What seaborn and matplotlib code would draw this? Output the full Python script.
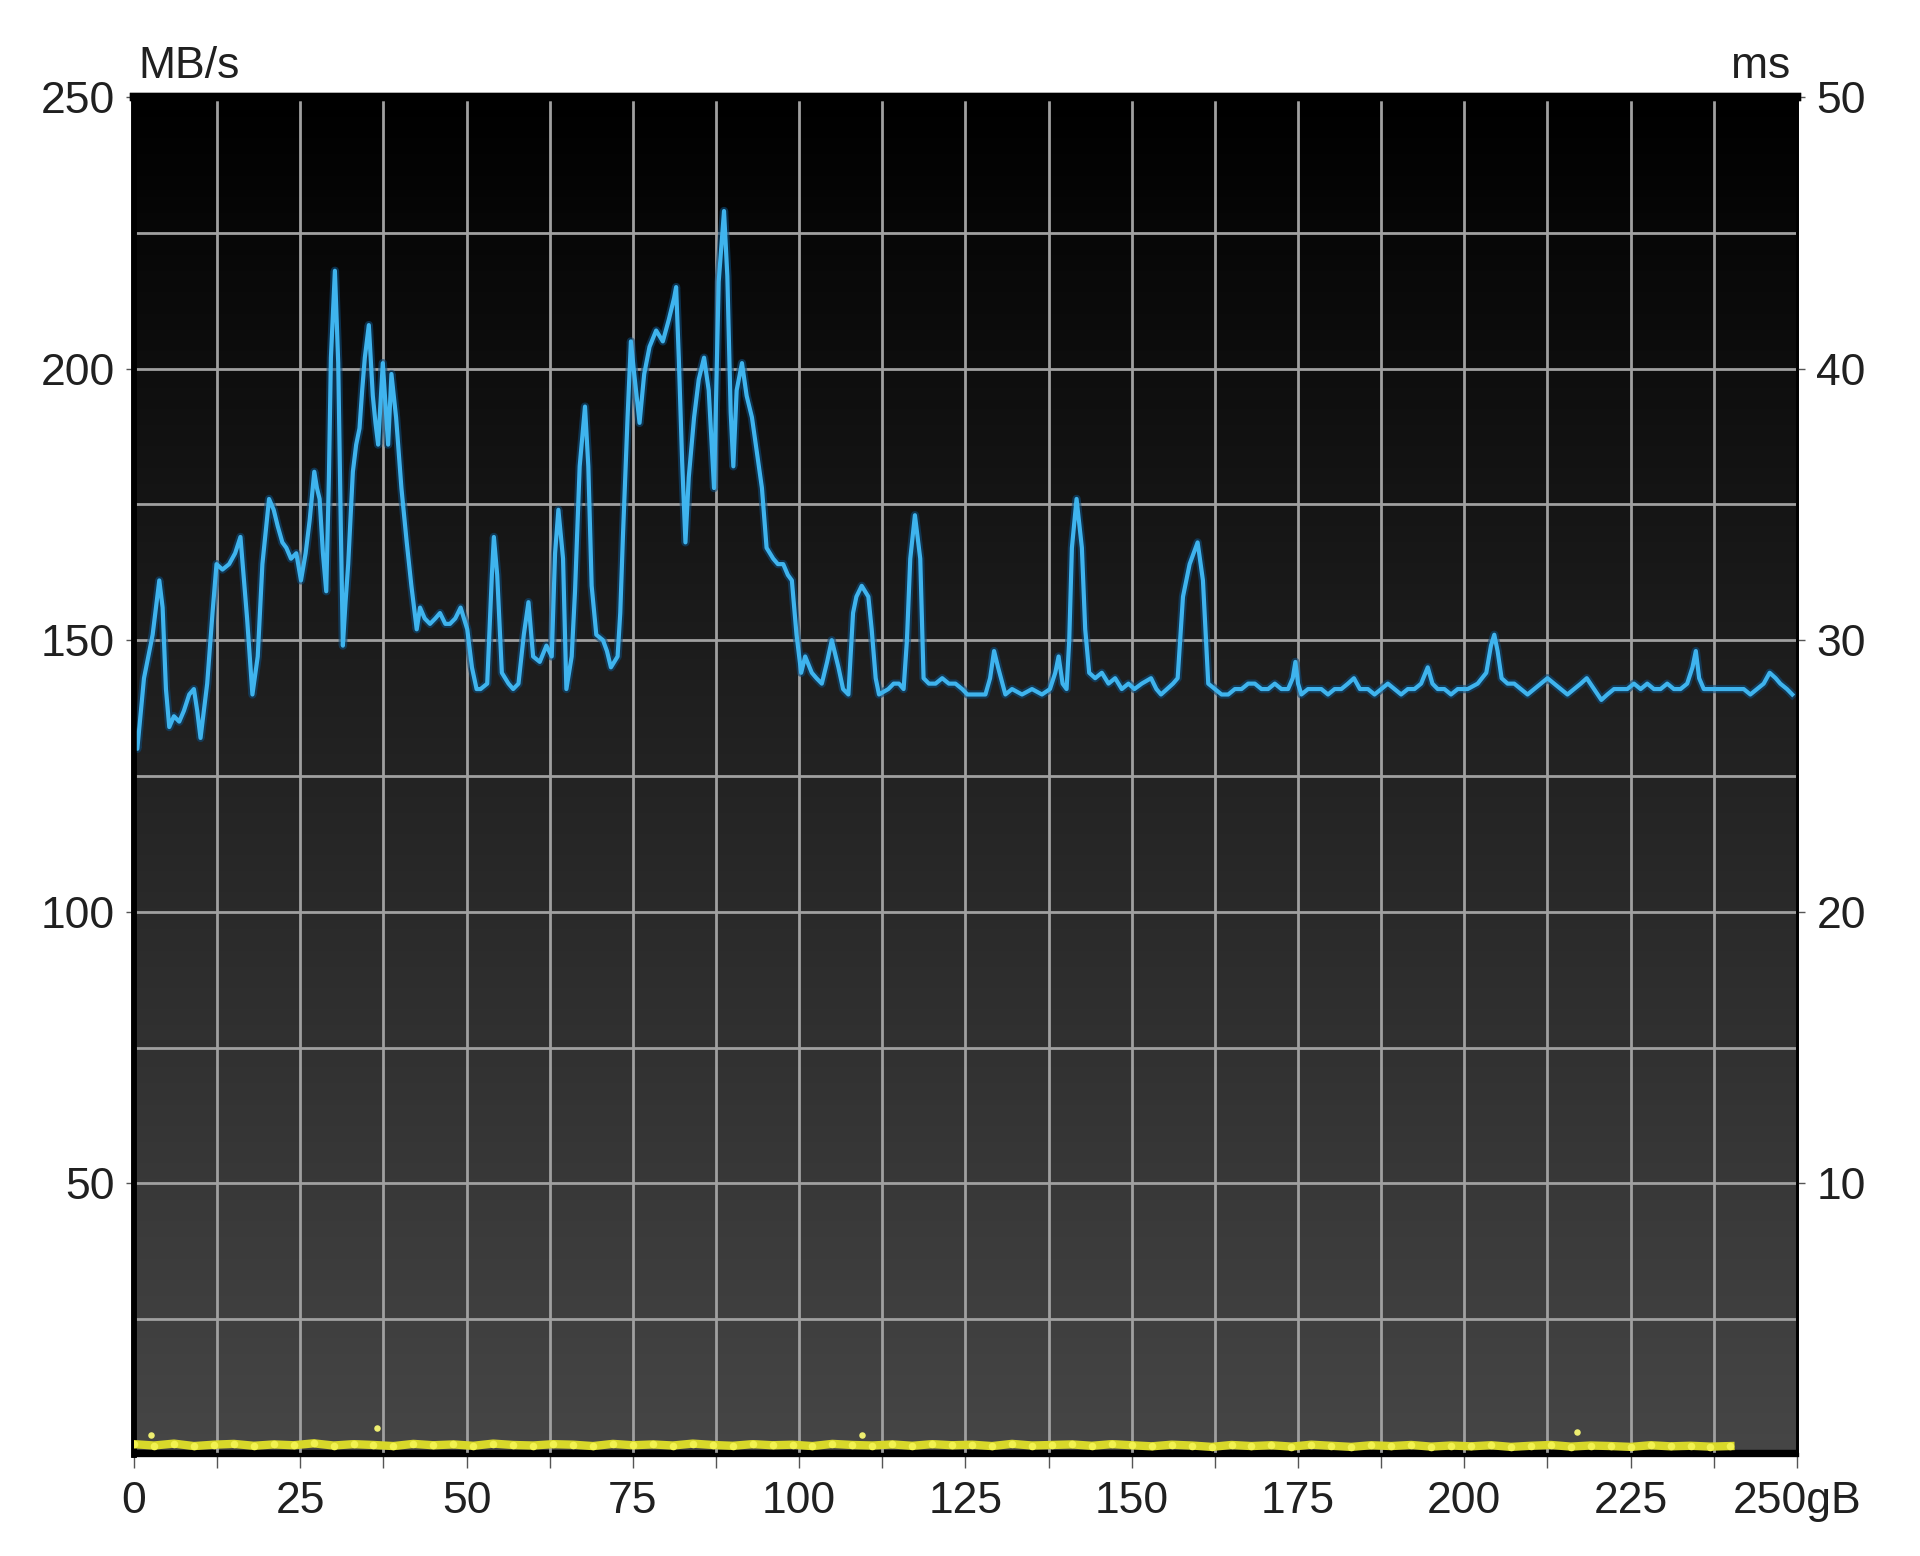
import matplotlib
matplotlib.use("Agg")
import matplotlib.pyplot as plt
from matplotlib.colors import LinearSegmentedColormap
import numpy as np
import seaborn as sns

# transfer rate (MB/s), position in GB
rate_gb = [0.0, 0.5, 1.5, 2.8, 3.8, 4.3, 4.8, 5.3, 6.0, 6.8, 7.5, 8.3, 9.0, 9.5, 10.0,
           11.0, 11.8, 12.4, 13.3, 14.3, 15.2, 16.0, 17.0, 17.8, 18.6, 19.3, 20.3, 21.0,
           21.6, 22.3, 22.9, 23.6, 24.4, 25.1, 25.8, 26.4, 27.1, 27.5, 27.9, 28.4, 28.9,
           29.3, 29.6, 30.2, 30.7, 31.1, 31.4, 31.8, 32.2, 32.9, 33.4, 33.9, 34.3, 34.7,
           35.3, 35.9, 36.3, 36.7, 37.4, 38.2, 38.7, 39.4, 40.2, 41.0, 41.7, 42.5, 43.0,
           43.7, 44.5, 45.3, 46.0, 46.8, 47.5, 48.3, 49.1, 50.1, 50.8, 51.5,
           52.1, 53.1, 53.8, 54.1, 54.6, 55.3, 56.3, 57.0, 57.8, 58.6, 59.3, 60.0, 61.0,
           62.0, 62.8, 63.3, 63.8, 64.5, 65.0, 65.8, 66.3, 67.0, 67.8, 68.3, 68.8, 69.5,
           70.5, 71.1, 71.7, 72.2, 72.7, 73.1, 73.5, 74.2, 74.7, 75.2, 76.0, 76.7, 77.5,
           78.5, 79.0, 79.5, 80.4, 81.2, 81.5, 81.9, 82.4, 82.9, 83.4, 84.2, 84.9, 85.7,
           86.4, 87.2, 87.9, 88.7, 89.2, 89.7, 90.1, 90.6, 91.4, 92.1, 92.9, 93.6, 94.4,
           95.1, 96.1, 96.8, 97.6, 98.3, 98.9, 99.6, 100.3,
           100.9, 101.9, 102.6, 103.4, 104.2, 104.9, 105.9, 106.6, 107.4, 108.1, 108.6,
           109.4, 110.4, 110.9, 111.5, 112.0, 113.4, 114.2, 115.0, 115.7, 116.2, 116.7,
           117.4, 118.2, 118.7, 119.5, 120.5, 121.5, 122.5, 123.5, 124.5, 125.3, 126.5,
           128.0, 128.7, 129.3, 129.9, 131.0, 132.0, 133.5, 135.0, 136.5, 137.7, 138.5,
           139.0, 139.6, 140.2, 140.6, 141.0, 141.7, 142.5, 143.0, 143.6, 144.5, 145.5,
           146.5, 147.5, 148.5, 149.5, 150.4, 151.5, 152.9, 153.7, 154.4, 155.3, 156.2,
           156.9, 157.7, 158.7, 159.9, 160.7, 161.5, 162.5, 163.5, 164.5,
           165.5, 166.5, 167.5, 168.5, 169.5, 170.5, 171.5, 172.5, 173.5, 174.2, 174.6,
           175.0, 175.5, 176.5, 177.5, 178.5, 179.5, 180.5, 181.5, 182.5, 183.4, 184.3,
           185.5, 186.5, 187.5, 188.5, 189.5, 190.5, 191.5, 192.5, 193.5, 194.5, 195.2,
           196.0, 197.0, 198.0, 199.0, 200.5, 202.0, 203.3, 204.0, 204.5, 205.0, 205.6,
           206.5, 207.5, 208.5, 209.5, 210.5, 211.5, 212.5, 213.5, 214.5, 215.5, 216.5,
           217.5, 218.4, 219.5, 220.6, 221.5, 222.5, 223.5, 224.5, 225.5, 226.5, 227.5,
           228.5, 229.5, 230.5, 231.5, 232.5, 233.5, 234.3, 234.8, 235.3, 236.0, 237.0,
           238.0, 239.0, 240.0, 241.0, 242.0, 243.0, 244.0, 245.0, 245.9, 246.8, 247.5,
           248.5, 249.3]
rate_mbs = [134, 130, 143, 151, 161, 156, 141, 134, 136, 135, 137, 140, 141, 137, 132,
            142, 155, 164, 163, 164, 166, 169, 154, 140, 147, 164, 176, 174,
            171, 168, 167, 165, 166, 161, 166, 172, 181, 178, 176, 166, 159,
            180, 202, 218, 201, 170, 149, 157, 164, 181, 186, 189, 196, 202,
            208, 195, 190, 186, 201, 186, 199, 191, 178, 168, 160, 152, 156,
            154, 153, 154, 155, 153, 153, 154, 156, 152, 145, 141,
            141, 142, 162, 169, 162, 144, 142, 141, 142, 151, 157, 147, 146,
            149, 147, 166, 174, 165, 141, 147, 159, 182, 193, 182, 160, 151,
            150, 148, 145, 146, 147, 155, 169, 191, 205, 199, 190, 199, 204,
            207, 206, 205, 209, 213, 215, 202, 183, 168, 180, 191, 198, 202,
            196, 178, 216, 229, 217, 192, 182, 196, 201, 195, 191, 185, 178,
            167, 165, 164, 164, 162, 161, 151, 144,
            147, 144, 143, 142, 146, 150, 145, 141, 140, 155, 158,
            160, 158, 152, 143, 140, 141, 142, 142, 141, 150, 165,
            173, 165, 143, 142, 142, 143, 142, 142, 141, 140, 140,
            140, 143, 148, 145, 140, 141, 140, 141, 140, 141, 144,
            147, 142, 141, 150, 167, 176, 167, 152, 144, 143, 144,
            142, 143, 141, 142, 141, 142, 143, 141, 140, 141, 142,
            143, 158, 164, 168, 161, 142, 141, 140, 140,
            141, 141, 142, 142, 141, 141, 142, 141, 141, 143, 146,
            142, 140, 141, 141, 141, 140, 141, 141, 142, 143, 141,
            141, 140, 141, 142, 141, 140, 141, 141, 142, 145, 142,
            141, 141, 140, 141, 141, 142, 144, 149, 151, 148, 143,
            142, 142, 141, 140, 141, 142, 143, 142, 141, 140, 141,
            142, 143, 141, 139, 140, 141, 141, 141, 142, 141, 142,
            141, 141, 142, 141, 141, 142, 145, 148, 143, 141, 141,
            141, 141, 141, 141, 141, 140, 141, 142, 144, 143, 142,
            141, 140]

# access time (ms)
access_gb = [0, 3, 6, 9, 12, 15, 18, 21, 24, 27,
             30, 33, 36, 39, 42, 45, 48, 51, 54, 57,
             60, 63, 66, 69, 72, 75, 78, 81, 84, 87,
             90, 93, 96, 99, 102, 105, 108, 111, 114, 117,
             120, 123, 126, 129, 132, 135, 138, 141, 144, 147,
             150, 153, 156, 159, 162, 165, 168, 171, 174, 177,
             180, 183, 186, 189, 192, 195, 198, 201, 204, 207,
             210, 213, 216, 219, 222, 225, 228, 231, 234, 237,
             240]
access_ms = [0.40, 0.35, 0.42, 0.33, 0.38, 0.41, 0.34, 0.39, 0.36, 0.43,
             0.35, 0.40, 0.37, 0.33, 0.41, 0.36, 0.39, 0.34, 0.42, 0.37,
             0.35, 0.40, 0.38, 0.33, 0.41, 0.36, 0.39, 0.35, 0.42, 0.37,
             0.34, 0.40, 0.36, 0.38, 0.33, 0.41, 0.37, 0.35, 0.39, 0.34,
             0.40, 0.36, 0.38, 0.33, 0.41, 0.35, 0.37, 0.39, 0.34, 0.40,
             0.36, 0.32, 0.38, 0.35, 0.30, 0.37, 0.33, 0.36, 0.31, 0.38,
             0.34, 0.30, 0.36, 0.33, 0.37, 0.31, 0.35, 0.32, 0.36, 0.30,
             0.34, 0.37, 0.31, 0.35, 0.33, 0.30, 0.36, 0.32, 0.34, 0.31,
             0.33]
spike_gb = [2.5, 36.5, 109.5, 217.0]
spike_ms = [0.75, 1.0, 0.75, 0.85]

x_ticks = [0, 25, 50, 75, 100, 125, 150, 175, 200, 225, 250]
x_labels = ["0", "25", "50", "75", "100", "125", "150", "175", "200", "225", "250gB"]
left_ticks = [50, 100, 150, 200, 250]
right_ticks = [10, 20, 30, 40, 50]

plt.rcParams['font.family'] = ['Liberation Sans', 'DejaVu Sans']
txt = "#202020"
fs = 32

fig = plt.figure(figsize=(19.2, 15.56), dpi=100)
ax = fig.add_axes([0.0698, 0.0649, 0.8661, 0.8728])

# dark gradient background
grad = np.linspace(0, 1, 256).reshape(-1, 1)
cmap = LinearSegmentedColormap.from_list("bg", ["#000000", "#464646"])
ax.imshow(grad, extent=[0, 250, 0, 250], aspect="auto", cmap=cmap, origin="upper", zorder=0)
ax.axhspan(0, 0.9, color="black", zorder=1)

ax.set_xlim(0, 250)
ax.set_ylim(0, 250)
ax.set_xticks(x_ticks)
ax.set_xticklabels(x_labels)
ax.set_xticks([12.5 + 25 * i for i in range(10)], minor=True)
ax.set_yticks(left_ticks)
ax.set_yticks([25, 75, 125, 175, 225], minor=True)
ax.grid(True, which="both", color="#a0a0a0", linewidth=2)

# soft dark halo, then the bright line
sns.lineplot(x=rate_gb, y=rate_mbs, ax=ax, color="#0d4a78", linewidth=6, alpha=0.6, zorder=3)
sns.lineplot(x=rate_gb, y=rate_mbs, ax=ax, color="#3fb4ee", linewidth=3, zorder=4)

ax.tick_params(axis="x", which="both", direction="out", length=9, width=1, color="#555555",
               labelsize=fs, labelcolor=txt, pad=10)
ax.tick_params(axis="y", which="major", direction="out", length=6, width=1, color="#555555",
               labelsize=fs, labelcolor=txt, pad=8)
ax.tick_params(axis="y", which="minor", length=0)

ax2 = ax.twinx()
ax2.set_ylim(0, 50)
ax2.set_yticks(right_ticks)
ax2.tick_params(axis="y", direction="out", length=6, width=1, color="#555555",
                labelsize=fs, labelcolor=txt, pad=8)
sns.lineplot(x=access_gb, y=access_ms, ax=ax2, color="#d8d82a", linewidth=6, zorder=4)
sns.scatterplot(x=access_gb, y=access_ms, ax=ax2, color="#f2f250", s=30, linewidth=0, zorder=5)
sns.scatterplot(x=spike_gb, y=spike_ms, ax=ax2, color="#eeee70", s=22, linewidth=0, zorder=5)

for a in (ax, ax2):
    for s in a.spines.values():
        s.set_color("black")
    a.spines["top"].set_linewidth(6)
    a.spines["left"].set_linewidth(4)
    a.spines["right"].set_linewidth(2)
    a.spines["bottom"].set_linewidth(3)

fig.text(0.0719, 0.944, "MB/s", fontsize=fs, color=txt, ha="left", va="bottom")
fig.text(0.9323, 0.944, "ms", fontsize=fs, color=txt, ha="right", va="bottom")

fig.savefig("out.png", dpi=100, facecolor="white")
